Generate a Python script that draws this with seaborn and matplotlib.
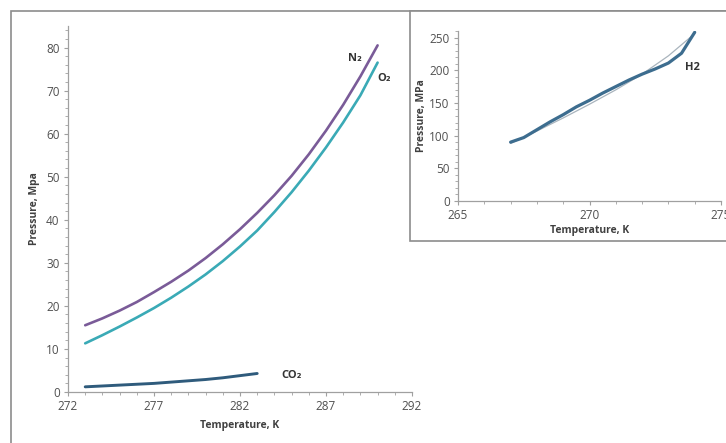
import matplotlib.pyplot as plt
import seaborn as sns
import pandas as pd
from matplotlib.patches import Rectangle
from matplotlib.ticker import MultipleLocator

# main chart: pressure vs temperature for N2, O2, CO2
temps = [273, 274, 275, 276, 277, 278, 279, 280, 281, 282,
         283, 284, 285, 286, 287, 288, 289, 290]
n2_pressure = [15.5, 17.1, 18.9, 20.9, 23.2, 25.6, 28.2, 31.1, 34.3, 37.8,
               41.6, 45.7, 50.2, 55.2, 60.7, 66.7, 73.3, 80.5]
o2_pressure = [11.3, 13.2, 15.2, 17.3, 19.5, 21.9, 24.5, 27.3, 30.4, 33.8,
               37.5, 41.8, 46.4, 51.4, 56.8, 62.6, 68.9, 76.5]
co2_temps = [273, 274, 275, 276, 277, 278, 279, 280, 281, 282, 283]
co2_pressure = [1.2, 1.4, 1.6, 1.8, 2.0, 2.3, 2.6, 2.9, 3.3, 3.8, 4.3]
main_xticks = [272, 277, 282, 287, 292]

# inset: H2
h2_temps = [267, 267.5, 268, 268.5, 269, 269.5, 270, 270.5, 271, 271.5,
            272, 272.5, 273, 273.5, 274]
h2_pressure = [90, 97, 109, 121, 132, 144, 154, 165, 175, 185,
               194, 202, 211, 226, 258]
h2_trend_temps = [267, 268, 269, 270, 271, 272, 273, 274]
h2_trend = [88, 107, 127, 148, 170, 194, 222, 256]
inset_xticks = [265, 270, 275]

sns.set_style("white")
plt.rcParams['font.family'] = ['Open Sans', 'DejaVu Sans']

text_color = '#505050'
spine_color = '#a0a0a0'

fig = plt.figure(figsize=(7.26, 4.43), dpi=100)

# outer frames
fig.patches.append(Rectangle((11 / 726, -0.2), 1.2, 1.2 - 11 / 443,
                             transform=fig.transFigure, fill=False,
                             edgecolor='#8c8c8c', lw=1.2, zorder=0))
fig.patches.append(Rectangle((410 / 726, 1 - 241 / 443), 0.6, (241 - 11) / 443,
                             transform=fig.transFigure, facecolor='white',
                             edgecolor='#8c8c8c', lw=1.2, zorder=1))


def style_axes(ax):
    for side in ['top', 'right']:
        ax.spines[side].set_visible(False)
    for side in ['left', 'bottom']:
        ax.spines[side].set_color(spine_color)
        ax.spines[side].set_linewidth(0.9)
    ax.tick_params(which='both', direction='out', colors=spine_color,
                   labelcolor=text_color, labelsize=8.5, bottom=True, left=True)
    ax.tick_params(which='major', length=3, pad=3)
    ax.tick_params(which='minor', length=2)
    ax.patch.set_alpha(0)


ax = fig.add_axes([68 / 726, (443 - 392) / 443, 344 / 726, 366 / 443])
ax.set_zorder(2)
main_df = pd.DataFrame({'T': temps, 'N2': n2_pressure, 'O2': o2_pressure})
sns.lineplot(data=main_df, x='T', y='N2', color='#7a5b98', lw=1.9, ax=ax)
sns.lineplot(data=main_df, x='T', y='O2', color='#3aaab6', lw=1.9, ax=ax)
sns.lineplot(x=co2_temps, y=co2_pressure, color='#2f5b7c', lw=2.1, ax=ax)
ax.set_xlim(272, 292)
ax.set_ylim(0, 85)
ax.set_xticks(main_xticks)
ax.xaxis.set_minor_locator(MultipleLocator(1))
ax.yaxis.set_major_locator(MultipleLocator(10))
ax.yaxis.set_minor_locator(MultipleLocator(2))
style_axes(ax)
ax.set_xlabel('Temperature, K', fontsize=7.5, fontweight='bold', color='#404040', labelpad=5)
ax.set_ylabel('Pressure, Mpa', fontsize=7.5, fontweight='bold', color='#404040', labelpad=4)
ax.text(288.7, 77.5, 'N₂', fontsize=8, fontweight='bold', color='#333333', ha='center', va='center')
ax.text(290.4, 72.8, 'O₂', fontsize=8, fontweight='bold', color='#333333', ha='center', va='center')
ax.text(285.0, 3.8, 'CO₂', fontsize=8, fontweight='bold', color='#333333', ha='center', va='center')

ins = fig.add_axes([458 / 726, (443 - 201) / 443, 263 / 726, 170 / 443])
ins.set_zorder(3)
sns.lineplot(x=h2_trend_temps, y=h2_trend, color='#a9b4bd', lw=0.9, ax=ins)
sns.lineplot(x=h2_temps, y=h2_pressure, color='#3d6d8f', lw=2.3, ax=ins)
ins.set_xlim(265, 275)
ins.set_ylim(0, 260)
ins.set_xticks(inset_xticks)
ins.xaxis.set_minor_locator(MultipleLocator(1))
ins.yaxis.set_major_locator(MultipleLocator(50))
ins.yaxis.set_minor_locator(MultipleLocator(10))
style_axes(ins)
ins.set_xlabel('Temperature, K', fontsize=7.5, fontweight='bold', color='#404040', labelpad=2)
ins.set_ylabel('Pressure, MPa', fontsize=7.5, fontweight='bold', color='#404040', labelpad=2)
ins.text(273.9, 204, 'H2', fontsize=8, fontweight='bold', color='#333333', ha='center', va='center')

fig.savefig('out.png', dpi=100)
